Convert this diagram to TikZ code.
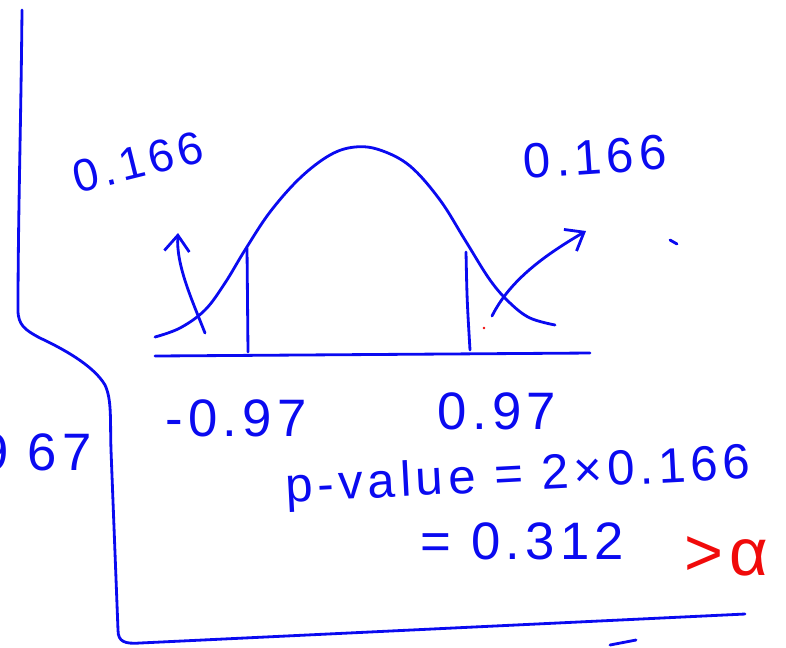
\documentclass[tikz,border=0pt]{standalone}
\usepackage{fontspec}
\setmainfont{Liberation Sans}[LetterSpace=10]
\usetikzlibrary{arrows.meta,positioning,calc}
\definecolor{ink}{HTML}{0A0AF0}
\definecolor{pen}{HTML}{F00A0A}
\tikzset{stroke/.style={draw=ink,line width=1.6pt,line cap=round,line join=round},
  hand/.style={text=ink,font=\fontsize{30}{32}\selectfont,inner sep=0pt},
  point/.style={-{Straight Barb[length=3.2mm,width=5mm,line width=1.6pt]},stroke}}
\begin{document}
\begin{tikzpicture}[x=0.02cm,y=-0.02cm]
\useasboundingbox (0,0) rectangle (786,647);
% frame of the page
\draw[stroke] (22,10) .. controls (21,120) and (18,220) .. (18,310) .. controls (18,325) and (25,330) .. (40,338) .. controls (70,352) and (95,368) .. (105,385) .. controls (112,400) and (110,420) .. (111,450) -- (118,630) .. controls (118,642) and (125,644) .. (140,643) -- (745,614);
\draw[stroke] (610,645) -- (636,640);
\draw[stroke] (670,240) -- (677,244);
\node[hand,anchor=east] (cut) at (92,452) {9\hspace{11pt}67};
% bell curve and axis
\draw[stroke] plot[smooth,tension=.6] coordinates {(155,337) (180,328) (205,310) (225,283) (245,250) (270,212) (300,178) (330,155) (355,147) (380,150) (410,166) (440,200) (465,240) (490,280) (510,303) (530,318) (555,325)};
\draw[stroke] (155,356) -- (590,353);
\coordinate (lcut) at (247,248);
\coordinate (lbase) at (248,352);
\coordinate (rcut) at (466,252);
\coordinate (rbase) at (470,350);
\draw[stroke] (lcut) -- (lbase);
\draw[stroke] (rcut) .. controls (467,300) .. (rbase);
\fill[pen] (484,328) circle (1.3);
% tail labels
\node[hand,font=\fontsize{26}{28}\selectfont,rotate=14] (ltailp) at (138,162) {0.166};
\node[hand,font=\fontsize{28}{30}\selectfont,rotate=4] (rtailp) at (595,157) {0.166};
\coordinate (lfoot) at (205,333);
\coordinate (ltip) at (178,233);
\coordinate (rfoot) at (492,316);
\coordinate (rtip) at (586,231);
\draw[point] (lfoot) .. controls (192,300) and (176,265) .. (ltip);
\draw[point] (rfoot) .. controls (510,280) and (545,255) .. (rtip);
% critical values
\node[hand] (lcrit) at (236,418) {-0.97};
\node[hand] (rcrit) at (497,411) {0.97};
% p-value
\node[hand,font=\fontsize{28}{30}\selectfont,rotate=3,anchor=west] (pv) at (285,490) {p-value = 2×0.166};
\node[hand,anchor=west] (pres) at (420,541) {= 0.312};
\node[text=pen,font=\fontsize{38}{40}\selectfont,inner sep=0pt,anchor=west] (gt) at (684,556) {>α};
\end{tikzpicture}
\end{document}
